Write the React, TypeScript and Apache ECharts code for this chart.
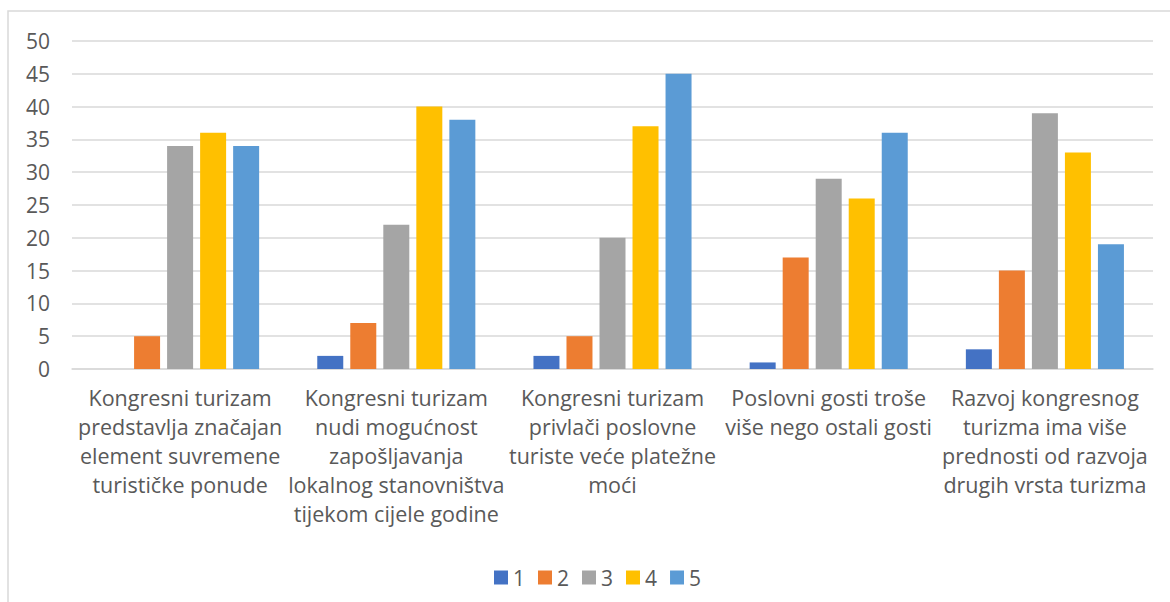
import React, { useEffect, useRef } from "react";
import * as echarts from "echarts";

const categories = [
  "Kongresni turizam\npredstavlja značajan\nelement suvremene\nturističke ponude",
  "Kongresni turizam\nnudi mogućnost\nzapošljavanja\nlokalnog stanovništva\ntijekom cijele godine",
  "Kongresni turizam\nprivlači poslovne\nturiste veće platežne\nmoći",
  "Poslovni gosti troše\nviše nego ostali gosti",
  "Razvoj kongresnog\nturizma ima više\nprednosti od razvoja\ndrugih vrsta turizma",
];
const seriesNames = ["1", "2", "3", "4", "5"];
const s1 = [0, 2, 2, 1, 3];
const s2 = [5, 7, 5, 17, 15];
const s3 = [34, 22, 20, 29, 39];
const s4 = [36, 40, 37, 26, 33];
const s5 = [34, 38, 45, 36, 19];
const colors = ["#4472C4", "#ED7D31", "#A5A5A5", "#FFC000", "#5B9BD5"];
const FONT = "'Open Sans', Lato, sans-serif";

export default function App() {
  const ref = useRef<HTMLDivElement>(null);
  useEffect(() => {
    if (!ref.current) return;
    const chart = echarts.init(ref.current, undefined, { renderer: "svg" });
    const data = [s1, s2, s3, s4, s5];
    chart.setOption({
      animation: false,
      textStyle: { fontFamily: FONT },
      graphic: [
        {
          type: "rect",
          shape: { x: 8, y: 11, width: 1200, height: 650 },
          style: { fill: "none", stroke: "#d9d9d9", lineWidth: 1.5 },
          silent: true,
          z: -1,
        },
      ],
      grid: { left: 72, right: 17, top: 41, bottom: 233, containLabel: false },
      legend: {
        data: seriesNames,
        left: 489,
        top: 562,
        itemWidth: 14,
        itemHeight: 14,
        itemGap: 13,
        icon: "rect",
        textStyle: { fontSize: 21, color: "#595959", fontFamily: FONT },
      },
      xAxis: {
        type: "category",
        data: categories,
        axisLine: { lineStyle: { color: "#d9d9d9", width: 1.5 } },
        axisTick: { show: false },
        axisLabel: {
          interval: 0,
          fontSize: 21.5,
          lineHeight: 29,
          color: "#595959",
          margin: 14,
          fontFamily: FONT,
        },
      },
      yAxis: {
        type: "value",
        min: 0,
        max: 50,
        interval: 5,
        axisLine: { show: false },
        axisTick: { show: false },
        splitLine: { lineStyle: { color: "#d9d9d9", width: 1.5 } },
        axisLabel: { fontSize: 21, color: "#595959", margin: 22, fontFamily: FONT },
      },
      series: data.map((d, i) => ({
        name: seriesNames[i],
        type: "bar",
        data: d,
        barWidth: 26,
        barGap: "27%",
        itemStyle: { color: colors[i] },
      })),
    });
    return () => chart.dispose();
  }, []);
  return (
    <div
      ref={ref}
      style={{ position: "absolute", left: 0, top: 0, width: 1170, height: 602, background: "#fff" }}
    />
  );
}
